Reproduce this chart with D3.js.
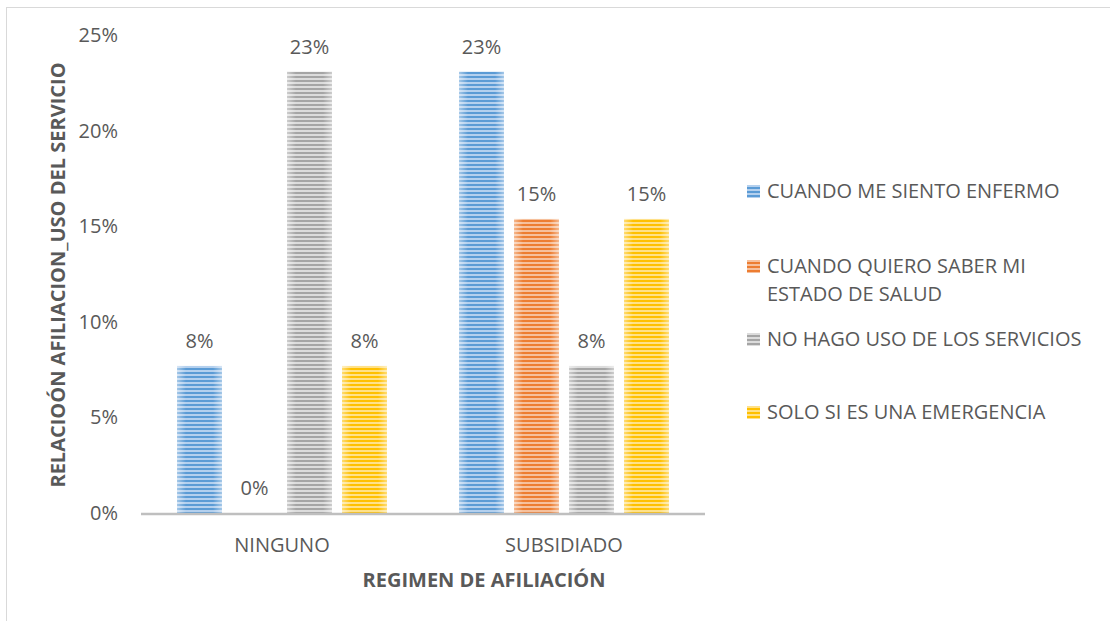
<!DOCTYPE html>
<html>
<head>
<meta charset="utf-8">
<script src="https://cdn.jsdelivr.net/npm/d3@7"></script>
<style>
  body { margin: 0; background: #fff; }
  text { font-family: "Open Sans", sans-serif; fill: #595959; }
</style>
</head>
<body>
<svg id="chart"></svg>
<script>
// data
var categories = ["NINGUNO", "SUBSIDIADO"];
var seriesNames = ["CUANDO ME SIENTO ENFERMO", "CUANDO QUIERO SABER MI ESTADO DE SALUD",
  "NO HAGO USO DE LOS SERVICIOS", "SOLO SI ES UNA EMERGENCIA"];
var legendLines = [["CUANDO ME SIENTO ENFERMO"], ["CUANDO QUIERO SABER MI", "ESTADO DE SALUD"],
  ["NO HAGO USO DE LOS SERVICIOS"], ["SOLO SI ES UNA EMERGENCIA"]];
var ningunoValues = [0.0769, 0, 0.2308, 0.0769];
var subsidiadoValues = [0.2308, 0.1538, 0.0769, 0.1538];
var yTicks = [0, 0.05, 0.10, 0.15, 0.20, 0.25];
var colors = ["#5B9BD5", "#ED7D31", "#A5A5A5", "#FFC000"];
var lightColors = ["#b4d0ee", "#f6c09c", "#dcdcdc", "#ffe189"];

var W = 1110, H = 621;
var svg = d3.select("#chart").attr("width", W).attr("height", H);

var rows = [];
categories.forEach(function(c, i) {
  var vals = i === 0 ? ningunoValues : subsidiadoValues;
  seriesNames.forEach(function(s, j) { rows.push({ cat: c, series: j, value: vals[j] }); });
});

// frame
svg.append("rect").attr("x", 6.5).attr("y", 7.5).attr("width", W).attr("height", H)
  .attr("fill", "none").attr("stroke", "#d9d9d9");

// patterns
var defs = svg.append("defs");
colors.forEach(function(c, i) {
  var p = defs.append("pattern").attr("id", "stripe" + i)
    .attr("patternUnits", "userSpaceOnUse").attr("width", 8).attr("height", 4);
  p.append("rect").attr("width", 8).attr("height", 4).attr("fill", lightColors[i]);
  p.append("rect").attr("y", 0).attr("width", 8).attr("height", 2).attr("fill", c);
});
var g = defs.append("linearGradient").attr("id", "edge").attr("x1", 0).attr("x2", 1);
g.append("stop").attr("offset", 0).attr("stop-color", "#fff").attr("stop-opacity", 0.45);
g.append("stop").attr("offset", 0.2).attr("stop-color", "#fff").attr("stop-opacity", 0);
g.append("stop").attr("offset", 0.8).attr("stop-color", "#fff").attr("stop-opacity", 0);
g.append("stop").attr("offset", 1).attr("stop-color", "#fff").attr("stop-opacity", 0.45);

// scales
var x0 = d3.scaleBand().domain(categories).range([141, 705]);
var x1 = d3.scaleBand().domain(d3.range(seriesNames.length)).range([0, 210]).paddingInner(10 / 55);
var y = d3.scaleLinear().domain([0, 0.25]).range([513, 35]);
var pct = d3.format(".0%");
var fs = "20px";

// y tick labels
svg.append("g").selectAll("text").data(yTicks).enter().append("text")
  .attr("x", 118).attr("y", function(d) { return y(d) + 7; })
  .attr("text-anchor", "end").style("font-size", fs)
  .text(pct);

// bars
var bars = svg.append("g").selectAll("g.bar").data(rows).enter().append("g");
function bx(d) { return x0(d.cat) + x0.bandwidth() / 2 - 105 + x1(d.series); }
bars.append("rect")
  .attr("x", bx).attr("y", function(d) { return y(d.value); })
  .attr("width", x1.bandwidth()).attr("height", function(d) { return y(0) - y(d.value); })
  .attr("fill", function(d) { return "url(#stripe" + d.series + ")"; });
bars.append("rect")
  .attr("x", bx).attr("y", function(d) { return y(d.value); })
  .attr("width", x1.bandwidth()).attr("height", function(d) { return y(0) - y(d.value); })
  .attr("fill", "url(#edge)");
bars.append("text")
  .attr("x", function(d) { return bx(d) + x1.bandwidth() / 2; })
  .attr("y", function(d) { return y(d.value) - 18; })
  .attr("text-anchor", "middle").style("font-size", fs)
  .text(function(d) { return pct(d.value); });

// x axis
svg.append("line").attr("x1", 141).attr("x2", 705).attr("y1", y(0) + 1).attr("y2", y(0) + 1)
  .attr("stroke", "#bfbfbf").attr("stroke-width", 2.5);
svg.append("g").selectAll("text").data(categories).enter().append("text")
  .attr("x", function(d) { return x0(d) + x0.bandwidth() / 2; }).attr("y", 552)
  .attr("text-anchor", "middle").style("font-size", fs).text(function(d) { return d; });

// axis titles
svg.append("text").attr("x", 484).attr("y", 587).attr("text-anchor", "middle")
  .style("font-size", fs).style("font-weight", "bold").text("REGIMEN DE AFILIACIÓN");
svg.append("text").attr("transform", "translate(65,275) rotate(-90)").attr("text-anchor", "middle")
  .style("font-size", fs).style("font-weight", "bold").text("RELACIOÓN AFILIACION_USO DEL SERVICIO");

// legend
var legendY = [191, 266, 339, 412];
var leg = svg.append("g").selectAll("g").data(legendLines).enter().append("g")
  .attr("transform", function(d, i) { return "translate(747," + legendY[i] + ")"; });
leg.append("rect").attr("x", 0).attr("y", -6).attr("width", 13).attr("height", 13)
  .attr("fill", function(d, i) { return "url(#stripe" + i + ")"; });
leg.selectAll("text").data(function(d) { return d; }).enter().append("text")
  .attr("x", 20).attr("y", function(d, i) { return 7 + i * 28; })
  .style("font-size", fs).text(function(d) { return d; });
</script>
</body>
</html>
